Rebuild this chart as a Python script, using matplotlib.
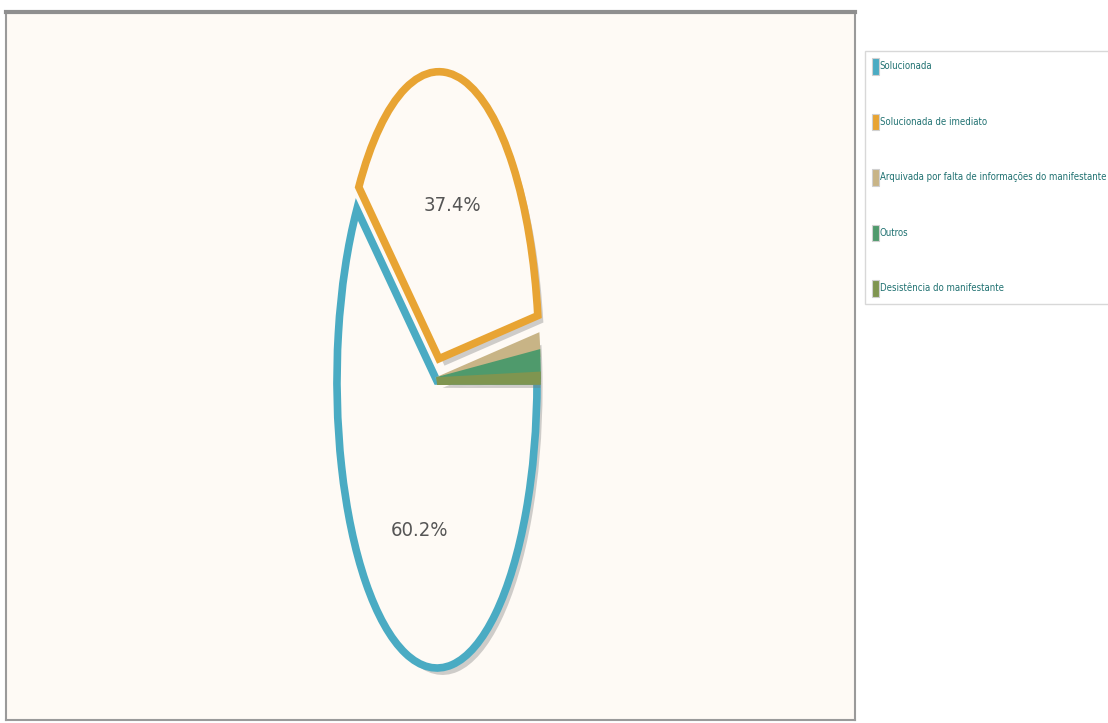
import matplotlib
matplotlib.use("Agg")
import matplotlib.pyplot as plt
import matplotlib.patheffects as pe
from matplotlib.patches import Patch

# dados
categorias = ["Solucionada",
              "Solucionada de imediato",
              "Arquivada por falta de informações do manifestante",
              "Outros",
              "Desistência do manifestante"]
valores = [60.2, 37.4, 0.9, 1.2, 0.3]
cores = ["#4aabc3", "#e8a433", "#c8b486", "#4f9a6c", "#7f9550"]
destaque = [0, 0.08, 0, 0, 0]

fundo = "#fefaf5"
fonte = ["DejaVu Sans"]

W, H = 1108, 723
fig = plt.figure(figsize=(W / 100, H / 100), dpi=100)
fig.patch.set_facecolor("white")

# area do grafico em pixels (esq, topo, dir, baixo)
x0, y0, x1, y1 = 6, 12, 855, 720
ax = fig.add_axes([x0 / W, 1 - y1 / H, (x1 - x0) / W, (y1 - y0) / H])
ax.set_facecolor(fundo)

# centro e raios da pizza em pixels
cx, cy = 437, 381
rx, ry = 100, 287
larg = x1 - x0
alt = y1 - y0

faces = [fundo, fundo, cores[2], cores[3], cores[4]]
wedges, textos, pcts = ax.pie(
    valores, colors=faces, startangle=0, counterclock=False,
    explode=destaque, radius=1, center=(0, 0),
    autopct=lambda p: f"{p:.1f}%" if p > 5 else "",
    pctdistance=0.55, frame=True,
    wedgeprops=dict(linewidth=5.5, joinstyle="miter"),
    textprops=dict(color="#555555", fontsize=14.5, family=fonte,
                   fontstretch="condensed"))

sombra = [pe.SimplePatchShadow(offset=(4, -5), shadow_rgbFace="#777777", alpha=0.35),
          pe.Normal()]
for w, c in zip(wedges, cores):
    w.set_edgecolor(c)
    w.set_path_effects(sombra)

ax.set_aspect("auto")
ax.set_xticks([])
ax.set_yticks([])
ax.set_xlim(-(cx - x0) / rx, (larg - (cx - x0)) / rx)
ax.set_ylim(-(y1 - cy) / ry, (alt - (y1 - cy)) / ry)
for lado in ["left", "right", "bottom"]:
    ax.spines[lado].set_color("#9a9a9a")
    ax.spines[lado].set_linewidth(1.5)
ax.spines["top"].set_color("#8f8f8f")
ax.spines["top"].set_linewidth(3)

# legenda
handles = [Patch(facecolor=c, edgecolor="#d0d0d0", linewidth=0.8) for c in cores]
leg = fig.legend(handles, categorias, loc="upper left",
                 bbox_to_anchor=(865 / W, 1 - 51 / H),
                 frameon=True, fancybox=False, edgecolor="#cfcfcf",
                 handlelength=0.7, handleheight=2.3, handletextpad=0.1,
                 labelspacing=4.05, borderpad=0.75, borderaxespad=0,
                 prop=dict(family=fonte, size=6.9, stretch="condensed"))
for t in leg.get_texts():
    t.set_color("#217272")

fig.savefig("out.png", dpi=100, facecolor="white")
